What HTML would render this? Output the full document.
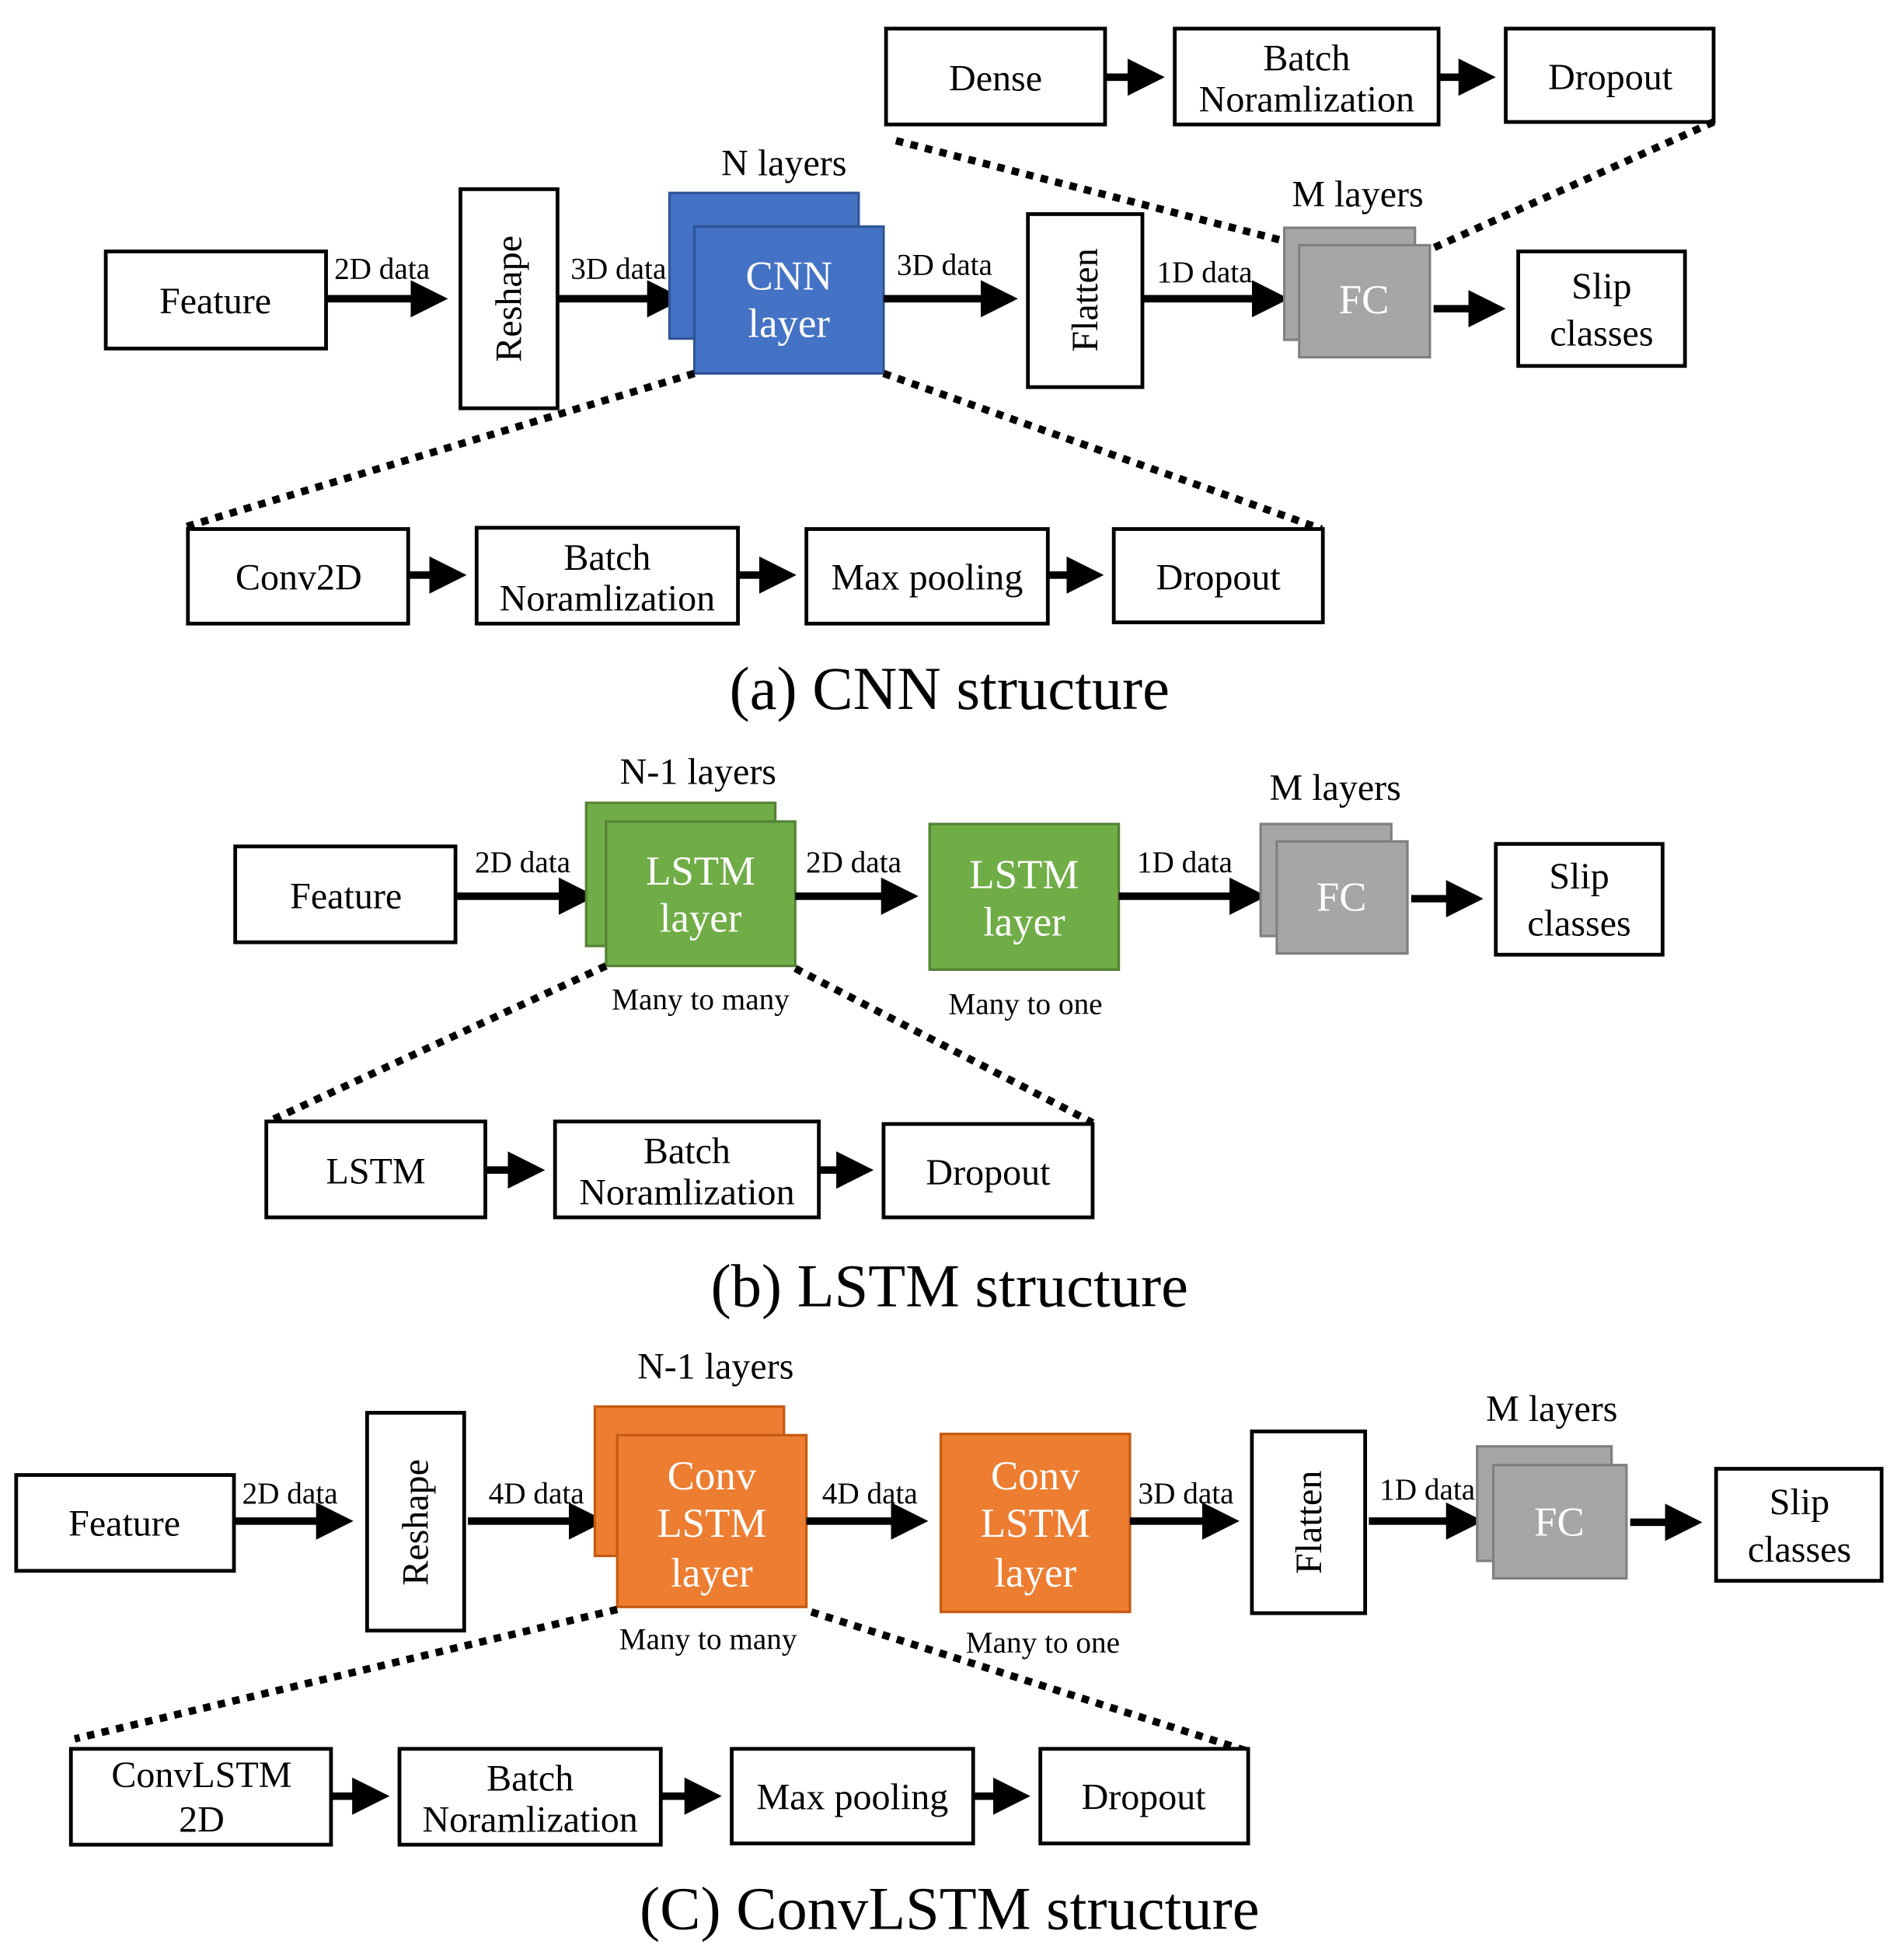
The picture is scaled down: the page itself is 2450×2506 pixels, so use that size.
<!DOCTYPE html>
<html><head><meta charset="utf-8"><style>
html,body{margin:0;padding:0;background:#fff;}
svg{display:block;}
text{font-family:"Liberation Serif",serif;fill:#000;text-anchor:middle;dominant-baseline:central;}
.b{fill:#fff;stroke:#000;stroke-width:3;}
.t{font-size:30px;}
.s{font-size:24.5px;}
.w{fill:#fff;font-size:33px;}
.cap{font-size:49px;}
.d{stroke:#000;stroke-width:6;stroke-dasharray:6,6;fill:none;}
.a{stroke:#000;stroke-width:6;}
</style></head><body>
<svg width="2450" height="2506" viewBox="0 0 1530 1565" preserveAspectRatio="none" xmlns="http://www.w3.org/2000/svg">
<defs><marker id="ah" markerWidth="5" markerHeight="5" refX="4" refY="2.5" orient="auto" markerUnits="strokeWidth"><path d="M0,0 L5,2.5 L0,5 z" fill="#000"/></marker></defs>

<!-- (a) -->
<rect class="b" x="712" y="23" width="176" height="77"/><text class="t" x="800" y="63">Dense</text>
<rect class="b" x="944" y="23" width="212" height="77"/><text class="t" x="1050" y="47">Batch</text><text class="t" x="1050" y="80">Noramlization</text>
<rect class="b" x="1210" y="23" width="167" height="75"/><text class="t" x="1294" y="62">Dropout</text>
<line class="a" x1="888" y1="62" x2="930" y2="62" marker-end="url(#ah)"/>
<line class="a" x1="1156" y1="62" x2="1196" y2="62" marker-end="url(#ah)"/>
<line class="d" x1="720" y1="113" x2="1045" y2="197"/>
<line class="d" x1="1377" y1="98" x2="1150" y2="200"/>
<text class="t" x="630" y="131">N layers</text>
<rect class="b" x="85" y="202" width="177" height="78"/><text class="t" x="173" y="242">Feature</text>
<line class="a" x1="262" y1="240" x2="354" y2="240" marker-end="url(#ah)"/><text class="s" x="307" y="216">2D data</text>
<rect class="b" x="370" y="152" width="78" height="176"/><text class="t" transform="translate(409,240) rotate(-90)">Reshape</text>
<line class="a" x1="448" y1="240" x2="544" y2="240" marker-end="url(#ah)"/><text class="s" x="497" y="216">3D data</text>
<rect x="538" y="155" width="152" height="117" fill="#4472C4" stroke="#2f5597" stroke-width="2"/>
<rect x="558" y="182" width="152" height="118" fill="#4472C4" stroke="#2f5597" stroke-width="2"/>
<text class="w" x="634" y="222">CNN</text><text class="w" x="634" y="260">layer</text>
<line class="a" x1="710" y1="240" x2="812" y2="240" marker-end="url(#ah)"/><text class="s" x="759" y="213">3D data</text>
<rect class="b" x="826" y="172" width="92" height="139"/><text class="t" transform="translate(872,241) rotate(-90)">Flatten</text>
<line class="a" x1="918" y1="240" x2="1030" y2="240" marker-end="url(#ah)"/><text class="s" x="968" y="219">1D data</text>
<text class="t" x="1091" y="156">M layers</text>
<rect x="1032" y="183" width="105" height="90" fill="#A6A6A6" stroke="#808080" stroke-width="2"/>
<rect x="1044" y="197" width="105" height="90" fill="#A6A6A6" stroke="#808080" stroke-width="2"/>
<text class="w" x="1096" y="241">FC</text>
<line class="a" x1="1152" y1="248" x2="1204" y2="248" marker-end="url(#ah)"/>
<rect class="b" x="1220" y="202" width="134" height="92"/><text class="t" x="1287" y="230">Slip</text><text class="t" x="1287" y="268">classes</text>
<line class="d" x1="558" y1="300" x2="150" y2="423"/>
<line class="d" x1="710" y1="300" x2="1062" y2="425"/>
<rect class="b" x="151" y="425" width="177" height="76"/><text class="t" x="240" y="464">Conv2D</text>
<rect class="b" x="383" y="424" width="210" height="77"/><text class="t" x="488" y="448">Batch</text><text class="t" x="488" y="481">Noramlization</text>
<rect class="b" x="648" y="425" width="194" height="76"/><text class="t" x="745" y="464">Max pooling</text>
<rect class="b" x="895" y="425" width="168" height="75"/><text class="t" x="979" y="464">Dropout</text>
<line class="a" x1="328" y1="462" x2="369" y2="462" marker-end="url(#ah)"/>
<line class="a" x1="593" y1="462" x2="634" y2="462" marker-end="url(#ah)"/>
<line class="a" x1="842" y1="462" x2="881" y2="462" marker-end="url(#ah)"/>
<text class="cap" x="763" y="553">(a) CNN structure</text>

<!-- (b) -->
<text class="t" x="561" y="620">N-1 layers</text>
<rect class="b" x="189" y="680" width="177" height="77"/><text class="t" x="278" y="720">Feature</text>
<line class="a" x1="366" y1="720" x2="473" y2="720" marker-end="url(#ah)"/><text class="s" x="420" y="693">2D data</text>
<rect x="471" y="645" width="152" height="115" fill="#70AD47" stroke="#548235" stroke-width="2"/>
<rect x="487" y="660" width="152" height="116" fill="#70AD47" stroke="#548235" stroke-width="2"/>
<text class="w" x="563" y="700">LSTM</text><text class="w" x="563" y="738">layer</text>
<line class="a" x1="639" y1="720" x2="732" y2="720" marker-end="url(#ah)"/><text class="s" x="686" y="693">2D data</text>
<rect x="747" y="662" width="152" height="117" fill="#70AD47" stroke="#548235" stroke-width="2"/>
<text class="w" x="823" y="703">LSTM</text><text class="w" x="823" y="741">layer</text>
<text class="s" x="563" y="803">Many to many</text><text class="s" x="824" y="807">Many to one</text>
<line class="a" x1="899" y1="720" x2="1012" y2="720" marker-end="url(#ah)"/><text class="s" x="952" y="693">1D data</text>
<text class="t" x="1073" y="633">M layers</text>
<rect x="1013" y="662" width="105" height="90" fill="#A6A6A6" stroke="#808080" stroke-width="2"/>
<rect x="1026" y="676" width="105" height="90" fill="#A6A6A6" stroke="#808080" stroke-width="2"/>
<text class="w" x="1078" y="721">FC</text>
<line class="a" x1="1134" y1="722" x2="1186" y2="722" marker-end="url(#ah)"/>
<rect class="b" x="1202" y="678" width="134" height="89"/><text class="t" x="1269" y="704">Slip</text><text class="t" x="1269" y="742">classes</text>
<line class="d" x1="487" y1="776" x2="218" y2="900"/>
<line class="d" x1="639" y1="778" x2="878" y2="902"/>
<rect class="b" x="214" y="901" width="176" height="77"/><text class="t" x="302" y="941">LSTM</text>
<rect class="b" x="446" y="901" width="212" height="77"/><text class="t" x="552" y="925">Batch</text><text class="t" x="552" y="958">Noramlization</text>
<rect class="b" x="710" y="903" width="168" height="75"/><text class="t" x="794" y="942">Dropout</text>
<line class="a" x1="390" y1="940" x2="432" y2="940" marker-end="url(#ah)"/>
<line class="a" x1="658" y1="940" x2="696" y2="940" marker-end="url(#ah)"/>
<text class="cap" x="763" y="1033">(b) LSTM structure</text>

<!-- (c) -->
<text class="t" x="575" y="1098">N-1 layers</text>
<rect class="b" x="13" y="1185" width="175" height="77"/><text class="t" x="100" y="1224">Feature</text>
<line class="a" x1="188" y1="1222" x2="278" y2="1222" marker-end="url(#ah)"/><text class="s" x="233" y="1200">2D data</text>
<rect class="b" x="295" y="1135" width="78" height="175"/><text class="t" transform="translate(334,1223) rotate(-90)">Reshape</text>
<line class="a" x1="376" y1="1222" x2="481" y2="1222" marker-end="url(#ah)"/><text class="s" x="431" y="1200">4D data</text>
<rect x="478" y="1130" width="152" height="120" fill="#ED7D31" stroke="#c55a11" stroke-width="2"/>
<rect x="496" y="1153" width="152" height="138" fill="#ED7D31" stroke="#c55a11" stroke-width="2"/>
<text class="w" x="572" y="1186">Conv</text><text class="w" x="572" y="1224">LSTM</text><text class="w" x="572" y="1264">layer</text>
<line class="a" x1="648" y1="1222" x2="740" y2="1222" marker-end="url(#ah)"/><text class="s" x="699" y="1200">4D data</text>
<rect x="756" y="1152" width="152" height="143" fill="#ED7D31" stroke="#c55a11" stroke-width="2"/>
<text class="w" x="832" y="1186">Conv</text><text class="w" x="832" y="1224">LSTM</text><text class="w" x="832" y="1264">layer</text>
<line class="a" x1="908" y1="1222" x2="990" y2="1222" marker-end="url(#ah)"/><text class="s" x="953" y="1200">3D data</text>
<rect class="b" x="1006" y="1150" width="91" height="146"/><text class="t" transform="translate(1052,1223) rotate(-90)">Flatten</text>
<line class="a" x1="1100" y1="1222" x2="1186" y2="1222" marker-end="url(#ah)"/><text class="s" x="1147" y="1197">1D data</text>
<text class="t" x="1247" y="1132">M layers</text>
<rect x="1187" y="1162" width="108" height="92" fill="#A6A6A6" stroke="#808080" stroke-width="2"/>
<rect x="1200" y="1177" width="107" height="91" fill="#A6A6A6" stroke="#808080" stroke-width="2"/>
<text class="w" x="1253" y="1223">FC</text>
<line class="a" x1="1310" y1="1223" x2="1362" y2="1223" marker-end="url(#ah)"/>
<rect class="b" x="1379" y="1180" width="133" height="90"/><text class="t" x="1446" y="1207">Slip</text><text class="t" x="1446" y="1245">classes</text>
<text class="s" x="569" y="1317">Many to many</text><text class="s" x="838" y="1320">Many to one</text>
<line class="d" x1="496" y1="1293" x2="60" y2="1397"/>
<line class="d" x1="652" y1="1295" x2="1003" y2="1407"/>
<rect class="b" x="57" y="1405" width="209" height="77"/><text class="t" x="162" y="1426">ConvLSTM</text><text class="t" x="162" y="1462">2D</text>
<rect class="b" x="321" y="1405" width="210" height="77"/><text class="t" x="426" y="1429">Batch</text><text class="t" x="426" y="1462">Noramlization</text>
<rect class="b" x="588" y="1405" width="194" height="76"/><text class="t" x="685" y="1444">Max pooling</text>
<rect class="b" x="836" y="1405" width="167" height="76"/><text class="t" x="919" y="1444">Dropout</text>
<line class="a" x1="266" y1="1443" x2="307" y2="1443" marker-end="url(#ah)"/>
<line class="a" x1="531" y1="1443" x2="574" y2="1443" marker-end="url(#ah)"/>
<line class="a" x1="782" y1="1443" x2="822" y2="1443" marker-end="url(#ah)"/>
<text class="cap" x="763" y="1533">(C) ConvLSTM structure</text>
</svg>
</body></html>
